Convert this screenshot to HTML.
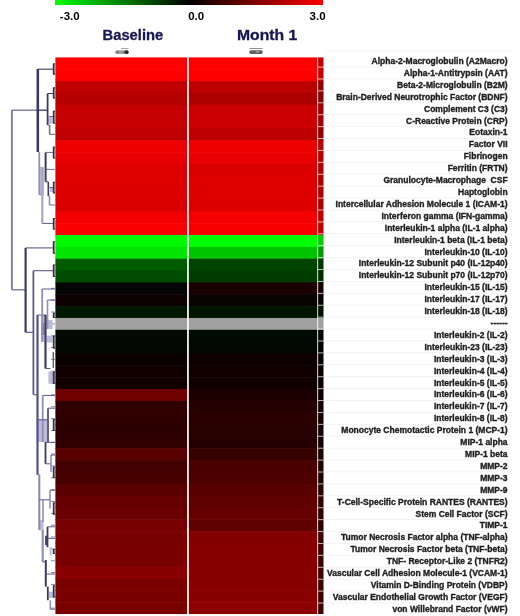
<!DOCTYPE html>
<html><head><meta charset="utf-8"><style>
html,body{margin:0;padding:0;background:#fff;width:520px;height:616px;overflow:hidden}
svg{display:block;will-change:transform;filter:blur(0.3px)}
.lb{font-family:"Liberation Sans",sans-serif;font-weight:bold;font-size:8.5px;fill:#1e1e1e;stroke:#1e1e1e;stroke-width:0.35px;text-anchor:end}
.sc{font-family:"Liberation Sans",sans-serif;font-weight:bold;font-size:11.5px;fill:#000}
.hd{font-family:"Liberation Sans",sans-serif;font-weight:bold;font-size:14.6px;fill:#171752;stroke:#171752;stroke-width:0.3px}
</style></head><body>
<svg width="520" height="616" viewBox="0 0 520 616">
<defs><linearGradient id="cb" x1="0" x2="1" y1="0" y2="0">
<stop offset="0" stop-color="#00ff00"/><stop offset="0.5" stop-color="#000000"/><stop offset="1" stop-color="#ff0000"/>
</linearGradient></defs>
<rect x="55" y="0" width="268" height="5" fill="url(#cb)"/>
<text x="59.8" y="19.8" class="sc">-3.0</text>
<text x="188.2" y="19.8" class="sc">0.0</text>
<text x="309.6" y="19.8" class="sc">3.0</text>
<text x="102.6" y="40" class="hd" textLength="60.6" lengthAdjust="spacingAndGlyphs">Baseline</text>
<text x="237" y="39.6" class="hd" textLength="60.2" lengthAdjust="spacingAndGlyphs">Month 1</text>
<rect x="121" y="48" width="7.5" height="0.9" fill="#a0a0a0"/>
<rect x="115.3" y="50.5" width="13.2" height="3.3" rx="1.6" fill="#7a807a"/>
<rect x="124.6" y="50.2" width="4" height="3.8" rx="1.6" fill="#2e2e2e"/>
<rect x="119" y="51.2" width="3" height="1.6" fill="#a8b0a8"/>
<rect x="249.5" y="48" width="13" height="1.0" fill="#8c8c9c"/>
<rect x="249.3" y="50.3" width="13.4" height="3.6" rx="1.6" fill="#5c625c"/>
<rect x="256" y="51" width="3" height="1.6" fill="#9aa09a"/>
<rect x="55.4" y="57.40" width="132.1" height="12.44" fill="#ff0000"/>
<rect x="188.5" y="57.40" width="129" height="12.44" fill="#ff0000"/>
<rect x="318" y="57.40" width="5.5" height="12.44" fill="#c60000"/>
<rect x="55.4" y="69.24" width="132.1" height="12.44" fill="#ff0000"/>
<rect x="188.5" y="69.24" width="129" height="12.44" fill="#ff0000"/>
<rect x="318" y="69.24" width="5.5" height="12.44" fill="#c60000"/>
<rect x="55.4" y="81.09" width="132.1" height="12.44" fill="#c00000"/>
<rect x="188.5" y="81.09" width="129" height="12.44" fill="#bc0000"/>
<rect x="318" y="81.09" width="5.5" height="12.44" fill="#920000"/>
<rect x="55.4" y="92.93" width="132.1" height="12.44" fill="#b60000"/>
<rect x="188.5" y="92.93" width="129" height="12.44" fill="#ac0000"/>
<rect x="318" y="92.93" width="5.5" height="12.44" fill="#860000"/>
<rect x="55.4" y="104.77" width="132.1" height="12.44" fill="#c40000"/>
<rect x="188.5" y="104.77" width="129" height="12.44" fill="#cc0000"/>
<rect x="318" y="104.77" width="5.5" height="12.44" fill="#9f0000"/>
<rect x="55.4" y="116.62" width="132.1" height="12.44" fill="#c60000"/>
<rect x="188.5" y="116.62" width="129" height="12.44" fill="#cc0000"/>
<rect x="318" y="116.62" width="5.5" height="12.44" fill="#9f0000"/>
<rect x="55.4" y="128.46" width="132.1" height="12.44" fill="#c00000"/>
<rect x="188.5" y="128.46" width="129" height="12.44" fill="#bc0000"/>
<rect x="318" y="128.46" width="5.5" height="12.44" fill="#920000"/>
<rect x="55.4" y="140.30" width="132.1" height="12.44" fill="#ee0000"/>
<rect x="188.5" y="140.30" width="129" height="12.44" fill="#ec0000"/>
<rect x="318" y="140.30" width="5.5" height="12.44" fill="#b80000"/>
<rect x="55.4" y="152.14" width="132.1" height="12.44" fill="#e80000"/>
<rect x="188.5" y="152.14" width="129" height="12.44" fill="#e80000"/>
<rect x="318" y="152.14" width="5.5" height="12.44" fill="#b40000"/>
<rect x="55.4" y="163.99" width="132.1" height="12.44" fill="#de0000"/>
<rect x="188.5" y="163.99" width="129" height="12.44" fill="#da0000"/>
<rect x="318" y="163.99" width="5.5" height="12.44" fill="#aa0000"/>
<rect x="55.4" y="175.83" width="132.1" height="12.44" fill="#de0000"/>
<rect x="188.5" y="175.83" width="129" height="12.44" fill="#de0000"/>
<rect x="318" y="175.83" width="5.5" height="12.44" fill="#ad0000"/>
<rect x="55.4" y="187.67" width="132.1" height="12.44" fill="#dc0000"/>
<rect x="188.5" y="187.67" width="129" height="12.44" fill="#de0000"/>
<rect x="318" y="187.67" width="5.5" height="12.44" fill="#ad0000"/>
<rect x="55.4" y="199.52" width="132.1" height="12.44" fill="#da0000"/>
<rect x="188.5" y="199.52" width="129" height="12.44" fill="#dc0000"/>
<rect x="318" y="199.52" width="5.5" height="12.44" fill="#ab0000"/>
<rect x="55.4" y="211.36" width="132.1" height="12.44" fill="#f40000"/>
<rect x="188.5" y="211.36" width="129" height="12.44" fill="#f40000"/>
<rect x="318" y="211.36" width="5.5" height="12.44" fill="#be0000"/>
<rect x="55.4" y="223.20" width="132.1" height="12.44" fill="#fa0000"/>
<rect x="188.5" y="223.20" width="129" height="12.44" fill="#f80000"/>
<rect x="318" y="223.20" width="5.5" height="12.44" fill="#c10000"/>
<rect x="55.4" y="235.05" width="132.1" height="12.44" fill="#00f800"/>
<rect x="188.5" y="235.05" width="129" height="12.44" fill="#00ff00"/>
<rect x="318" y="235.05" width="5.5" height="12.44" fill="#00cc00"/>
<rect x="55.4" y="246.89" width="132.1" height="12.44" fill="#00e400"/>
<rect x="188.5" y="246.89" width="129" height="12.44" fill="#00c400"/>
<rect x="318" y="246.89" width="5.5" height="12.44" fill="#009c00"/>
<rect x="55.4" y="258.73" width="132.1" height="12.44" fill="#005c00"/>
<rect x="188.5" y="258.73" width="129" height="12.44" fill="#004400"/>
<rect x="318" y="258.73" width="5.5" height="12.44" fill="#003600"/>
<rect x="55.4" y="270.57" width="132.1" height="12.44" fill="#004c00"/>
<rect x="188.5" y="270.57" width="129" height="12.44" fill="#003c00"/>
<rect x="318" y="270.57" width="5.5" height="12.44" fill="#003000"/>
<rect x="55.4" y="282.42" width="132.1" height="12.44" fill="#050505"/>
<rect x="188.5" y="282.42" width="129" height="12.44" fill="#1a0000"/>
<rect x="318" y="282.42" width="5.5" height="12.44" fill="#140000"/>
<rect x="55.4" y="294.26" width="132.1" height="12.44" fill="#0c0000"/>
<rect x="188.5" y="294.26" width="129" height="12.44" fill="#080404"/>
<rect x="318" y="294.26" width="5.5" height="12.44" fill="#060303"/>
<rect x="55.4" y="306.10" width="132.1" height="12.44" fill="#001800"/>
<rect x="188.5" y="306.10" width="129" height="12.44" fill="#001400"/>
<rect x="318" y="306.10" width="5.5" height="12.44" fill="#001000"/>
<rect x="55.4" y="317.95" width="132.1" height="12.44" fill="#a0a0a0"/>
<rect x="188.5" y="317.95" width="129" height="12.44" fill="#a0a0a0"/>
<rect x="318" y="317.95" width="5.5" height="12.44" fill="#a0a0a0"/>
<rect x="55.4" y="329.79" width="132.1" height="12.44" fill="#020a02"/>
<rect x="188.5" y="329.79" width="129" height="12.44" fill="#020b02"/>
<rect x="318" y="329.79" width="5.5" height="12.44" fill="#000400"/>
<rect x="55.4" y="341.63" width="132.1" height="12.44" fill="#030803"/>
<rect x="188.5" y="341.63" width="129" height="12.44" fill="#040804"/>
<rect x="318" y="341.63" width="5.5" height="12.44" fill="#010301"/>
<rect x="55.4" y="353.47" width="132.1" height="12.44" fill="#0a0000"/>
<rect x="188.5" y="353.47" width="129" height="12.44" fill="#0e0000"/>
<rect x="318" y="353.47" width="5.5" height="12.44" fill="#060000"/>
<rect x="55.4" y="365.32" width="132.1" height="12.44" fill="#100000"/>
<rect x="188.5" y="365.32" width="129" height="12.44" fill="#100000"/>
<rect x="318" y="365.32" width="5.5" height="12.44" fill="#070000"/>
<rect x="55.4" y="377.16" width="132.1" height="12.44" fill="#120000"/>
<rect x="188.5" y="377.16" width="129" height="12.44" fill="#120000"/>
<rect x="318" y="377.16" width="5.5" height="12.44" fill="#080000"/>
<rect x="55.4" y="389.00" width="132.1" height="12.44" fill="#700000"/>
<rect x="188.5" y="389.00" width="129" height="12.44" fill="#1c0000"/>
<rect x="318" y="389.00" width="5.5" height="12.44" fill="#0c0000"/>
<rect x="55.4" y="400.85" width="132.1" height="12.44" fill="#300000"/>
<rect x="188.5" y="400.85" width="129" height="12.44" fill="#240000"/>
<rect x="318" y="400.85" width="5.5" height="12.44" fill="#100000"/>
<rect x="55.4" y="412.69" width="132.1" height="12.44" fill="#2e0000"/>
<rect x="188.5" y="412.69" width="129" height="12.44" fill="#2a0000"/>
<rect x="318" y="412.69" width="5.5" height="12.44" fill="#120000"/>
<rect x="55.4" y="424.53" width="132.1" height="12.44" fill="#2a0000"/>
<rect x="188.5" y="424.53" width="129" height="12.44" fill="#280000"/>
<rect x="318" y="424.53" width="5.5" height="12.44" fill="#120000"/>
<rect x="55.4" y="436.38" width="132.1" height="12.44" fill="#300000"/>
<rect x="188.5" y="436.38" width="129" height="12.44" fill="#240000"/>
<rect x="318" y="436.38" width="5.5" height="12.44" fill="#100000"/>
<rect x="55.4" y="448.22" width="132.1" height="12.44" fill="#5a0000"/>
<rect x="188.5" y="448.22" width="129" height="12.44" fill="#360000"/>
<rect x="318" y="448.22" width="5.5" height="12.44" fill="#180000"/>
<rect x="55.4" y="460.06" width="132.1" height="12.44" fill="#440000"/>
<rect x="188.5" y="460.06" width="129" height="12.44" fill="#4a0000"/>
<rect x="318" y="460.06" width="5.5" height="12.44" fill="#210000"/>
<rect x="55.4" y="471.90" width="132.1" height="12.44" fill="#460000"/>
<rect x="188.5" y="471.90" width="129" height="12.44" fill="#4c0000"/>
<rect x="318" y="471.90" width="5.5" height="12.44" fill="#220000"/>
<rect x="55.4" y="483.75" width="132.1" height="12.44" fill="#5a0000"/>
<rect x="188.5" y="483.75" width="129" height="12.44" fill="#580000"/>
<rect x="318" y="483.75" width="5.5" height="12.44" fill="#270000"/>
<rect x="55.4" y="495.59" width="132.1" height="12.44" fill="#640000"/>
<rect x="188.5" y="495.59" width="129" height="12.44" fill="#600000"/>
<rect x="318" y="495.59" width="5.5" height="12.44" fill="#2b0000"/>
<rect x="55.4" y="507.43" width="132.1" height="12.44" fill="#6a0000"/>
<rect x="188.5" y="507.43" width="129" height="12.44" fill="#660000"/>
<rect x="318" y="507.43" width="5.5" height="12.44" fill="#2d0000"/>
<rect x="55.4" y="519.28" width="132.1" height="12.44" fill="#780000"/>
<rect x="188.5" y="519.28" width="129" height="12.44" fill="#600000"/>
<rect x="318" y="519.28" width="5.5" height="12.44" fill="#2b0000"/>
<rect x="55.4" y="531.12" width="132.1" height="12.44" fill="#780000"/>
<rect x="188.5" y="531.12" width="129" height="12.44" fill="#820000"/>
<rect x="318" y="531.12" width="5.5" height="12.44" fill="#3a0000"/>
<rect x="55.4" y="542.96" width="132.1" height="12.44" fill="#7a0000"/>
<rect x="188.5" y="542.96" width="129" height="12.44" fill="#860000"/>
<rect x="318" y="542.96" width="5.5" height="12.44" fill="#3c0000"/>
<rect x="55.4" y="554.81" width="132.1" height="12.44" fill="#7a0000"/>
<rect x="188.5" y="554.81" width="129" height="12.44" fill="#860000"/>
<rect x="318" y="554.81" width="5.5" height="12.44" fill="#3c0000"/>
<rect x="55.4" y="566.65" width="132.1" height="12.44" fill="#8a0000"/>
<rect x="188.5" y="566.65" width="129" height="12.44" fill="#880000"/>
<rect x="318" y="566.65" width="5.5" height="12.44" fill="#3d0000"/>
<rect x="55.4" y="578.49" width="132.1" height="12.44" fill="#7a0000"/>
<rect x="188.5" y="578.49" width="129" height="12.44" fill="#880000"/>
<rect x="318" y="578.49" width="5.5" height="12.44" fill="#3d0000"/>
<rect x="55.4" y="590.33" width="132.1" height="12.44" fill="#7a0000"/>
<rect x="188.5" y="590.33" width="129" height="12.44" fill="#8a0000"/>
<rect x="318" y="590.33" width="5.5" height="12.44" fill="#3e0000"/>
<rect x="55.4" y="602.18" width="132.1" height="11.84" fill="#7a0000"/>
<rect x="188.5" y="602.18" width="129" height="11.84" fill="#8c0000"/>
<rect x="318" y="602.18" width="5.5" height="11.84" fill="#3f0000"/>
<rect x="187" y="57.4" width="1.8" height="556.62" fill="#ffffff" opacity="0.8"/>
<rect x="317.2" y="57.4" width="1.0" height="556.62" fill="#ffffff" opacity="0.6"/>
<rect x="318" y="66.57" width="5.5" height="1.0" fill="#ffffff" opacity="0.7"/>
<rect x="325" y="66.57" width="187" height="0.8" fill="#f0f0f0"/>
<rect x="318" y="78.48" width="5.5" height="1.0" fill="#ffffff" opacity="0.7"/>
<rect x="325" y="78.48" width="187" height="0.8" fill="#f0f0f0"/>
<rect x="318" y="90.39" width="5.5" height="1.0" fill="#ffffff" opacity="0.7"/>
<rect x="325" y="90.39" width="187" height="0.8" fill="#f0f0f0"/>
<rect x="318" y="102.30" width="5.5" height="1.0" fill="#ffffff" opacity="0.7"/>
<rect x="325" y="102.30" width="187" height="0.8" fill="#f0f0f0"/>
<rect x="318" y="114.21" width="5.5" height="1.0" fill="#ffffff" opacity="0.7"/>
<rect x="325" y="114.21" width="187" height="0.8" fill="#f0f0f0"/>
<rect x="318" y="126.12" width="5.5" height="1.0" fill="#ffffff" opacity="0.7"/>
<rect x="325" y="126.12" width="187" height="0.8" fill="#f0f0f0"/>
<rect x="318" y="138.03" width="5.5" height="1.0" fill="#ffffff" opacity="0.7"/>
<rect x="325" y="138.03" width="187" height="0.8" fill="#f0f0f0"/>
<rect x="318" y="149.94" width="5.5" height="1.0" fill="#ffffff" opacity="0.7"/>
<rect x="325" y="149.94" width="187" height="0.8" fill="#f0f0f0"/>
<rect x="318" y="161.85" width="5.5" height="1.0" fill="#ffffff" opacity="0.7"/>
<rect x="325" y="161.85" width="187" height="0.8" fill="#f0f0f0"/>
<rect x="318" y="173.76" width="5.5" height="1.0" fill="#ffffff" opacity="0.7"/>
<rect x="325" y="173.76" width="187" height="0.8" fill="#f0f0f0"/>
<rect x="318" y="185.67" width="5.5" height="1.0" fill="#ffffff" opacity="0.7"/>
<rect x="325" y="185.67" width="187" height="0.8" fill="#f0f0f0"/>
<rect x="318" y="197.58" width="5.5" height="1.0" fill="#ffffff" opacity="0.7"/>
<rect x="325" y="197.58" width="187" height="0.8" fill="#f0f0f0"/>
<rect x="318" y="209.49" width="5.5" height="1.0" fill="#ffffff" opacity="0.7"/>
<rect x="325" y="209.49" width="187" height="0.8" fill="#f0f0f0"/>
<rect x="318" y="221.40" width="5.5" height="1.0" fill="#ffffff" opacity="0.7"/>
<rect x="325" y="221.40" width="187" height="0.8" fill="#f0f0f0"/>
<rect x="318" y="233.31" width="5.5" height="1.0" fill="#ffffff" opacity="0.7"/>
<rect x="325" y="233.31" width="187" height="0.8" fill="#f0f0f0"/>
<rect x="318" y="245.22" width="5.5" height="1.0" fill="#ffffff" opacity="0.7"/>
<rect x="325" y="245.22" width="187" height="0.8" fill="#f0f0f0"/>
<rect x="318" y="257.13" width="5.5" height="1.0" fill="#ffffff" opacity="0.7"/>
<rect x="325" y="257.13" width="187" height="0.8" fill="#f0f0f0"/>
<rect x="318" y="269.04" width="5.5" height="1.0" fill="#ffffff" opacity="0.7"/>
<rect x="325" y="269.04" width="187" height="0.8" fill="#f0f0f0"/>
<rect x="318" y="280.95" width="5.5" height="1.0" fill="#ffffff" opacity="0.7"/>
<rect x="325" y="280.95" width="187" height="0.8" fill="#f0f0f0"/>
<rect x="318" y="292.86" width="5.5" height="1.0" fill="#ffffff" opacity="0.7"/>
<rect x="325" y="292.86" width="187" height="0.8" fill="#f0f0f0"/>
<rect x="318" y="304.77" width="5.5" height="1.0" fill="#ffffff" opacity="0.7"/>
<rect x="325" y="304.77" width="187" height="0.8" fill="#f0f0f0"/>
<rect x="318" y="316.68" width="5.5" height="1.0" fill="#ffffff" opacity="0.7"/>
<rect x="325" y="316.68" width="187" height="0.8" fill="#f0f0f0"/>
<rect x="318" y="328.59" width="5.5" height="1.0" fill="#ffffff" opacity="0.7"/>
<rect x="325" y="328.59" width="187" height="0.8" fill="#f0f0f0"/>
<rect x="318" y="340.50" width="5.5" height="1.0" fill="#ffffff" opacity="0.7"/>
<rect x="325" y="340.50" width="187" height="0.8" fill="#f0f0f0"/>
<rect x="318" y="352.41" width="5.5" height="1.0" fill="#ffffff" opacity="0.7"/>
<rect x="325" y="352.41" width="187" height="0.8" fill="#f0f0f0"/>
<rect x="318" y="364.32" width="5.5" height="1.0" fill="#ffffff" opacity="0.7"/>
<rect x="325" y="364.32" width="187" height="0.8" fill="#f0f0f0"/>
<rect x="318" y="376.23" width="5.5" height="1.0" fill="#ffffff" opacity="0.7"/>
<rect x="325" y="376.23" width="187" height="0.8" fill="#f0f0f0"/>
<rect x="318" y="388.14" width="5.5" height="1.0" fill="#ffffff" opacity="0.7"/>
<rect x="325" y="388.14" width="187" height="0.8" fill="#f0f0f0"/>
<rect x="318" y="400.05" width="5.5" height="1.0" fill="#ffffff" opacity="0.7"/>
<rect x="325" y="400.05" width="187" height="0.8" fill="#f0f0f0"/>
<rect x="318" y="411.96" width="5.5" height="1.0" fill="#ffffff" opacity="0.7"/>
<rect x="325" y="411.96" width="187" height="0.8" fill="#f0f0f0"/>
<rect x="318" y="423.87" width="5.5" height="1.0" fill="#ffffff" opacity="0.7"/>
<rect x="325" y="423.87" width="187" height="0.8" fill="#f0f0f0"/>
<rect x="318" y="435.78" width="5.5" height="1.0" fill="#ffffff" opacity="0.7"/>
<rect x="325" y="435.78" width="187" height="0.8" fill="#f0f0f0"/>
<rect x="318" y="447.69" width="5.5" height="1.0" fill="#ffffff" opacity="0.7"/>
<rect x="325" y="447.69" width="187" height="0.8" fill="#f0f0f0"/>
<rect x="318" y="459.60" width="5.5" height="1.0" fill="#ffffff" opacity="0.7"/>
<rect x="325" y="459.60" width="187" height="0.8" fill="#f0f0f0"/>
<rect x="318" y="471.51" width="5.5" height="1.0" fill="#ffffff" opacity="0.7"/>
<rect x="325" y="471.51" width="187" height="0.8" fill="#f0f0f0"/>
<rect x="318" y="483.42" width="5.5" height="1.0" fill="#ffffff" opacity="0.7"/>
<rect x="325" y="483.42" width="187" height="0.8" fill="#f0f0f0"/>
<rect x="318" y="495.33" width="5.5" height="1.0" fill="#ffffff" opacity="0.7"/>
<rect x="325" y="495.33" width="187" height="0.8" fill="#f0f0f0"/>
<rect x="318" y="507.24" width="5.5" height="1.0" fill="#ffffff" opacity="0.7"/>
<rect x="325" y="507.24" width="187" height="0.8" fill="#f0f0f0"/>
<rect x="318" y="519.15" width="5.5" height="1.0" fill="#ffffff" opacity="0.7"/>
<rect x="325" y="519.15" width="187" height="0.8" fill="#f0f0f0"/>
<rect x="318" y="531.06" width="5.5" height="1.0" fill="#ffffff" opacity="0.7"/>
<rect x="325" y="531.06" width="187" height="0.8" fill="#f0f0f0"/>
<rect x="318" y="542.97" width="5.5" height="1.0" fill="#ffffff" opacity="0.7"/>
<rect x="325" y="542.97" width="187" height="0.8" fill="#f0f0f0"/>
<rect x="318" y="554.88" width="5.5" height="1.0" fill="#ffffff" opacity="0.7"/>
<rect x="325" y="554.88" width="187" height="0.8" fill="#f0f0f0"/>
<rect x="318" y="566.79" width="5.5" height="1.0" fill="#ffffff" opacity="0.7"/>
<rect x="325" y="566.79" width="187" height="0.8" fill="#f0f0f0"/>
<rect x="318" y="578.70" width="5.5" height="1.0" fill="#ffffff" opacity="0.7"/>
<rect x="325" y="578.70" width="187" height="0.8" fill="#f0f0f0"/>
<rect x="318" y="590.61" width="5.5" height="1.0" fill="#ffffff" opacity="0.7"/>
<rect x="325" y="590.61" width="187" height="0.8" fill="#f0f0f0"/>
<rect x="318" y="602.52" width="5.5" height="1.0" fill="#ffffff" opacity="0.7"/>
<rect x="325" y="602.52" width="187" height="0.8" fill="#f0f0f0"/>
<rect x="325" y="50.5" width="187" height="0.8" fill="#efefef"/>
<text x="507.6" y="63.97" class="lb">Alpha-2-Macroglobulin (A2Macro)</text>
<text x="507.6" y="75.88" class="lb">Alpha-1-Antitrypsin (AAT)</text>
<text x="507.6" y="87.79" class="lb">Beta-2-Microglobulin (B2M)</text>
<text x="507.6" y="99.70" class="lb">Brain-Derived Neurotrophic Factor (BDNF)</text>
<text x="507.6" y="111.61" class="lb">Complement C3 (C3)</text>
<text x="507.6" y="123.52" class="lb">C-Reactive Protein (CRP)</text>
<text x="507.6" y="135.43" class="lb">Eotaxin-1</text>
<text x="507.6" y="147.34" class="lb">Factor VII</text>
<text x="507.6" y="159.25" class="lb">Fibrinogen</text>
<text x="507.6" y="171.16" class="lb">Ferritin (FRTN)</text>
<text x="507.6" y="183.07" class="lb">Granulocyte-Macrophage &#160;CSF</text>
<text x="507.6" y="194.98" class="lb">Haptoglobin</text>
<text x="507.6" y="206.89" class="lb">Intercellular Adhesion Molecule 1 (ICAM-1)</text>
<text x="507.6" y="218.80" class="lb">Interferon gamma (IFN-gamma)</text>
<text x="507.6" y="230.71" class="lb">Interleukin-1 alpha (IL-1 alpha)</text>
<text x="507.6" y="242.62" class="lb">Interleukin-1 beta (IL-1 beta)</text>
<text x="507.6" y="254.53" class="lb">Interleukin-10 (IL-10)</text>
<text x="507.6" y="266.44" class="lb">Interleukin-12 Subunit p40 (IL-12p40)</text>
<text x="507.6" y="278.35" class="lb">Interleukin-12 Subunit p70 (IL-12p70)</text>
<text x="507.6" y="290.26" class="lb">Interleukin-15 (IL-15)</text>
<text x="507.6" y="302.17" class="lb">Interleukin-17 (IL-17)</text>
<text x="507.6" y="314.08" class="lb">Interleukin-18 (IL-18)</text>
<text x="507.6" y="325.99" class="lb">------</text>
<text x="507.6" y="337.90" class="lb">Interleukin-2 (IL-2)</text>
<text x="507.6" y="349.81" class="lb">Interleukin-23 (IL-23)</text>
<text x="507.6" y="361.72" class="lb">Interleukin-3 (IL-3)</text>
<text x="507.6" y="373.63" class="lb">Interleukin-4 (IL-4)</text>
<text x="507.6" y="385.54" class="lb">Interleukin-5 (IL-5)</text>
<text x="507.6" y="397.45" class="lb">Interleukin-6 (IL-6)</text>
<text x="507.6" y="409.36" class="lb">Interleukin-7 (IL-7)</text>
<text x="507.6" y="421.27" class="lb">Interleukin-8 (IL-8)</text>
<text x="507.6" y="433.18" class="lb">Monocyte Chemotactic Protein 1 (MCP-1)</text>
<text x="507.6" y="445.09" class="lb">MIP-1 alpha</text>
<text x="507.6" y="457.00" class="lb">MIP-1 beta</text>
<text x="507.6" y="468.91" class="lb">MMP-2</text>
<text x="507.6" y="480.82" class="lb">MMP-3</text>
<text x="507.6" y="492.73" class="lb">MMP-9</text>
<text x="507.6" y="504.64" class="lb">T-Cell-Specific Protein RANTES (RANTES)</text>
<text x="507.6" y="516.55" class="lb">Stem Cell Factor (SCF)</text>
<text x="507.6" y="528.46" class="lb">TIMP-1</text>
<text x="507.6" y="540.37" class="lb">Tumor Necrosis Factor alpha (TNF-alpha)</text>
<text x="507.6" y="552.28" class="lb">Tumor Necrosis Factor beta (TNF-beta)</text>
<text x="507.6" y="564.19" class="lb">TNF- Receptor-Like 2 (TNFR2)</text>
<text x="507.6" y="576.10" class="lb">Vascular Cell Adhesion Molecule-1 (VCAM-1)</text>
<text x="507.6" y="588.01" class="lb">Vitamin D-Binding Protein (VDBP)</text>
<text x="507.6" y="599.92" class="lb">Vascular Endothelial Growth Factor (VEGF)</text>
<text x="507.6" y="611.83" class="lb">von Willebrand Factor (vWF)</text>
<line x1="51" y1="288.34" x2="55" y2="288.34" stroke="#7878a0" stroke-width="0.9"/>
<line x1="51" y1="300.18" x2="55" y2="300.18" stroke="#7878a0" stroke-width="0.9"/>
<line x1="51" y1="312.02" x2="55" y2="312.02" stroke="#7878a0" stroke-width="0.9"/>
<line x1="51" y1="323.87" x2="55" y2="323.87" stroke="#7878a0" stroke-width="0.9"/>
<line x1="51" y1="335.71" x2="55" y2="335.71" stroke="#7878a0" stroke-width="0.9"/>
<line x1="51" y1="347.55" x2="55" y2="347.55" stroke="#7878a0" stroke-width="0.9"/>
<line x1="51" y1="359.40" x2="55" y2="359.40" stroke="#7878a0" stroke-width="0.9"/>
<line x1="51" y1="371.24" x2="55" y2="371.24" stroke="#7878a0" stroke-width="0.9"/>
<line x1="51" y1="383.08" x2="55" y2="383.08" stroke="#7878a0" stroke-width="0.9"/>
<line x1="51" y1="394.93" x2="55" y2="394.93" stroke="#7878a0" stroke-width="0.9"/>
<line x1="51" y1="406.77" x2="55" y2="406.77" stroke="#7878a0" stroke-width="0.9"/>
<line x1="51" y1="418.61" x2="55" y2="418.61" stroke="#7878a0" stroke-width="0.9"/>
<line x1="51" y1="430.45" x2="55" y2="430.45" stroke="#7878a0" stroke-width="0.9"/>
<line x1="51" y1="442.30" x2="55" y2="442.30" stroke="#7878a0" stroke-width="0.9"/>
<line x1="51" y1="454.14" x2="55" y2="454.14" stroke="#7878a0" stroke-width="0.9"/>
<line x1="51" y1="465.98" x2="55" y2="465.98" stroke="#7878a0" stroke-width="0.9"/>
<line x1="51" y1="477.83" x2="55" y2="477.83" stroke="#7878a0" stroke-width="0.9"/>
<line x1="51" y1="489.67" x2="55" y2="489.67" stroke="#7878a0" stroke-width="0.9"/>
<line x1="51" y1="501.51" x2="55" y2="501.51" stroke="#7878a0" stroke-width="0.9"/>
<line x1="51" y1="513.36" x2="55" y2="513.36" stroke="#7878a0" stroke-width="0.9"/>
<line x1="51" y1="525.20" x2="55" y2="525.20" stroke="#7878a0" stroke-width="0.9"/>
<line x1="51" y1="537.04" x2="55" y2="537.04" stroke="#7878a0" stroke-width="0.9"/>
<line x1="51" y1="548.88" x2="55" y2="548.88" stroke="#7878a0" stroke-width="0.9"/>
<line x1="51" y1="560.73" x2="55" y2="560.73" stroke="#7878a0" stroke-width="0.9"/>
<line x1="51" y1="572.57" x2="55" y2="572.57" stroke="#7878a0" stroke-width="0.9"/>
<line x1="51" y1="584.41" x2="55" y2="584.41" stroke="#7878a0" stroke-width="0.9"/>
<line x1="51" y1="596.26" x2="55" y2="596.26" stroke="#7878a0" stroke-width="0.9"/>
<line x1="51" y1="608.10" x2="55" y2="608.10" stroke="#7878a0" stroke-width="0.9"/>
<rect x="48.4" y="116" width="4.1" height="7.6" fill="#bcbcda"/>
<rect x="39.5" y="167" width="4.5" height="28" fill="#bcbcda"/>
<rect x="50" y="187" width="3" height="5" fill="#bcbcda"/>
<rect x="41.2" y="315" width="3.4" height="26.8" fill="#bcbcda"/>
<rect x="47" y="320" width="5.5" height="9" fill="#bcbcda"/>
<rect x="47" y="335.7" width="5.5" height="6.8" fill="#bcbcda"/>
<rect x="48.4" y="371.6" width="6.1" height="12.2" fill="#bcbcda"/>
<rect x="36.8" y="419" width="10.2" height="23" fill="#bcbcda"/>
<rect x="38.9" y="520" width="4.7" height="10.2" fill="#bcbcda"/>
<rect x="45" y="535.7" width="3" height="9.5" fill="#4a4a90"/>
<rect x="48.7" y="591.7" width="4.7" height="6.3" fill="#bcbcda"/>
<rect x="41.5" y="323" width="3" height="12" fill="#7a7ab8"/>
<line x1="11.9" y1="110" x2="11.9" y2="289.8" stroke="#8484a8" stroke-width="2.0"/>
<line x1="11.9" y1="110.2" x2="37.8" y2="110.2" stroke="#70709a" stroke-width="1.3"/>
<line x1="11.9" y1="289.8" x2="25.6" y2="289.8" stroke="#70709a" stroke-width="1.3"/>
<line x1="37.8" y1="69" x2="37.8" y2="152" stroke="#3a3a66" stroke-width="2.6"/>
<line x1="37.8" y1="69.2" x2="53.5" y2="69.2" stroke="#3a3a66" stroke-width="1.1"/>
<line x1="37.8" y1="110.2" x2="47.6" y2="110.2" stroke="#3a3a66" stroke-width="1.3"/>
<line x1="47.6" y1="93.5" x2="47.6" y2="125" stroke="#3a3a66" stroke-width="1.8"/>
<line x1="47.6" y1="93.5" x2="53.5" y2="93.5" stroke="#3a3a66" stroke-width="1.0"/>
<line x1="47.6" y1="125" x2="49.6" y2="125" stroke="#5a5a88" stroke-width="1.0"/>
<line x1="49.6" y1="125" x2="49.6" y2="134.3" stroke="#6a7a7a" stroke-width="1.6"/>
<line x1="49.6" y1="134.3" x2="55" y2="134.3" stroke="#5a5a88" stroke-width="1.0"/>
<line x1="49.6" y1="116.5" x2="53.5" y2="116.5" stroke="#5a5a88" stroke-width="1"/>
<line x1="39.3" y1="152" x2="39.3" y2="194.8" stroke="#9090b4" stroke-width="1.8"/>
<line x1="45.6" y1="152.4" x2="45.6" y2="181.8" stroke="#3a3a66" stroke-width="2.0"/>
<line x1="45.6" y1="152.4" x2="53.5" y2="152.4" stroke="#5a5a88" stroke-width="0.9"/>
<line x1="45.6" y1="169.4" x2="55" y2="169.4" stroke="#5a5a88" stroke-width="0.9"/>
<line x1="45.6" y1="181.8" x2="48.3" y2="181.8" stroke="#3a3a66" stroke-width="1"/>
<line x1="48.3" y1="181.8" x2="48.3" y2="196" stroke="#3a3a66" stroke-width="1.6"/>
<line x1="48.3" y1="196" x2="49.5" y2="196" stroke="#5a5a88" stroke-width="1"/>
<line x1="49.5" y1="196" x2="49.5" y2="205" stroke="#9090b4" stroke-width="1.6"/>
<line x1="49.5" y1="205" x2="55" y2="205" stroke="#5a5a88" stroke-width="0.9"/>
<line x1="48.3" y1="187.6" x2="53.5" y2="187.6" stroke="#5a5a88" stroke-width="0.9"/>
<line x1="39.3" y1="194.8" x2="42.3" y2="194.8" stroke="#9090b4" stroke-width="1"/>
<line x1="42.3" y1="167" x2="42.3" y2="223.4" stroke="#a8a8c4" stroke-width="2.2"/>
<line x1="42.3" y1="223.4" x2="53.5" y2="223.4" stroke="#5a5a88" stroke-width="1"/>
<line x1="25.6" y1="247.9" x2="25.6" y2="332.3" stroke="#3a3a66" stroke-width="2.2"/>
<line x1="25.6" y1="247.9" x2="53.5" y2="247.9" stroke="#5a5a88" stroke-width="1.1"/>
<line x1="25.6" y1="332.3" x2="33.4" y2="332.3" stroke="#5a5a88" stroke-width="1.2"/>
<line x1="33.4" y1="270.7" x2="33.4" y2="394.7" stroke="#5a5a8a" stroke-width="1.8"/>
<line x1="33.4" y1="270.7" x2="53.5" y2="270.7" stroke="#5a5a88" stroke-width="1.1"/>
<line x1="33.4" y1="394.7" x2="37.5" y2="394.7" stroke="#5a5a88" stroke-width="1.1"/>
<line x1="37.5" y1="315" x2="37.5" y2="474.7" stroke="#50508a" stroke-width="2.2"/>
<line x1="37.5" y1="315" x2="46" y2="315" stroke="#5a5a88" stroke-width="1"/>
<line x1="42.2" y1="289" x2="42.2" y2="341.8" stroke="#9090b4" stroke-width="1.8"/>
<line x1="42.2" y1="289" x2="55" y2="289" stroke="#5a5a88" stroke-width="1.0"/>
<line x1="47.5" y1="300" x2="47.5" y2="329" stroke="#9090b4" stroke-width="1.6"/>
<line x1="47.5" y1="300" x2="55" y2="300" stroke="#5a5a88" stroke-width="1"/>
<line x1="45.5" y1="315" x2="45.5" y2="368.5" stroke="#3a3a66" stroke-width="2.2"/>
<line x1="45.5" y1="368.5" x2="50.4" y2="368.5" stroke="#5a5a88" stroke-width="1"/>
<line x1="53.3" y1="352" x2="53.3" y2="368" stroke="#5a5a88" stroke-width="1.4"/>
<line x1="42.7" y1="395.4" x2="55" y2="395.4" stroke="#5a5a88" stroke-width="1"/>
<line x1="42.7" y1="395.4" x2="42.7" y2="442" stroke="#9090b4" stroke-width="1.8"/>
<line x1="48" y1="408.2" x2="48" y2="442" stroke="#3a3a66" stroke-width="1.6"/>
<line x1="48" y1="408.2" x2="55" y2="408.2" stroke="#5a5a88" stroke-width="1"/>
<line x1="37.5" y1="419.8" x2="47" y2="419.8" stroke="#5a5a88" stroke-width="1"/>
<line x1="45.5" y1="442" x2="45.5" y2="463.8" stroke="#3a3a66" stroke-width="1.8"/>
<line x1="45.5" y1="442.4" x2="55" y2="442.4" stroke="#5a5a88" stroke-width="1"/>
<line x1="45.5" y1="463.8" x2="50.4" y2="463.8" stroke="#5a5a88" stroke-width="1"/>
<line x1="51" y1="455" x2="51" y2="472" stroke="#9090b4" stroke-width="1.6"/>
<line x1="51" y1="455" x2="55" y2="455" stroke="#5a5a88" stroke-width="1"/>
<line x1="37.5" y1="474.7" x2="39.3" y2="474.7" stroke="#5a5a88" stroke-width="1"/>
<line x1="39.3" y1="474.7" x2="39.3" y2="530" stroke="#8888aa" stroke-width="2.0"/>
<line x1="39.3" y1="499.8" x2="50.4" y2="499.8" stroke="#5a5a88" stroke-width="1"/>
<line x1="50" y1="490.2" x2="50" y2="508.6" stroke="#9090b4" stroke-width="1.6"/>
<line x1="50" y1="490.2" x2="55" y2="490.2" stroke="#5a5a88" stroke-width="1"/>
<line x1="43" y1="499.8" x2="43" y2="522" stroke="#9090b4" stroke-width="1.6"/>
<line x1="42.7" y1="530" x2="42.7" y2="562" stroke="#9090b4" stroke-width="2.2"/>
<line x1="47.5" y1="526.8" x2="47.5" y2="547.2" stroke="#3a3a66" stroke-width="1.8"/>
<line x1="47.5" y1="526.8" x2="55" y2="526.8" stroke="#5a5a88" stroke-width="1"/>
<line x1="47.5" y1="538.4" x2="55" y2="538.4" stroke="#5a5a88" stroke-width="1"/>
<line x1="50.6" y1="547" x2="50.6" y2="555.4" stroke="#bcbcda" stroke-width="2"/>
<line x1="45.8" y1="560" x2="45.8" y2="586.6" stroke="#3a3a66" stroke-width="2.0"/>
<line x1="45.8" y1="574" x2="55" y2="574" stroke="#5a5a88" stroke-width="1"/>
<line x1="47.8" y1="586.6" x2="47.8" y2="600.2" stroke="#3a3a66" stroke-width="1.8"/>
<line x1="50.3" y1="600.2" x2="50.3" y2="609.2" stroke="#9090b4" stroke-width="1.6"/>
<line x1="50.3" y1="609.2" x2="55" y2="609.2" stroke="#5a5a88" stroke-width="1"/>
<line x1="42.7" y1="562" x2="45.8" y2="562" stroke="#5a5a88" stroke-width="1"/>
<line x1="53.7" y1="63.4" x2="53.7" y2="74.7" stroke="#3a3040" stroke-width="1.8"/>
<line x1="53.7" y1="63.9" x2="55.2" y2="63.9" stroke="#3a3040" stroke-width="1"/>
<line x1="53.7" y1="74.2" x2="55.2" y2="74.2" stroke="#3a3040" stroke-width="1"/>
<line x1="53.7" y1="87.3" x2="53.7" y2="98.5" stroke="#3a3040" stroke-width="1.8"/>
<line x1="53.7" y1="87.8" x2="55.2" y2="87.8" stroke="#3a3040" stroke-width="1"/>
<line x1="53.7" y1="98.0" x2="55.2" y2="98.0" stroke="#3a3040" stroke-width="1"/>
<line x1="53.7" y1="110.7" x2="53.7" y2="123.6" stroke="#3a3040" stroke-width="1.8"/>
<line x1="53.7" y1="111.2" x2="55.2" y2="111.2" stroke="#3a3040" stroke-width="1"/>
<line x1="53.7" y1="123.1" x2="55.2" y2="123.1" stroke="#3a3040" stroke-width="1"/>
<line x1="53.7" y1="146.6" x2="53.7" y2="158.5" stroke="#3a3040" stroke-width="1.8"/>
<line x1="53.7" y1="147.1" x2="55.2" y2="147.1" stroke="#3a3040" stroke-width="1"/>
<line x1="53.7" y1="158.0" x2="55.2" y2="158.0" stroke="#3a3040" stroke-width="1"/>
<line x1="53.7" y1="181.8" x2="53.7" y2="193.4" stroke="#3a3040" stroke-width="1.8"/>
<line x1="53.7" y1="182.3" x2="55.2" y2="182.3" stroke="#3a3040" stroke-width="1"/>
<line x1="53.7" y1="192.9" x2="55.2" y2="192.9" stroke="#3a3040" stroke-width="1"/>
<line x1="53.7" y1="218" x2="53.7" y2="229.6" stroke="#3a3040" stroke-width="1.8"/>
<line x1="53.7" y1="218.5" x2="55.2" y2="218.5" stroke="#3a3040" stroke-width="1"/>
<line x1="53.7" y1="229.1" x2="55.2" y2="229.1" stroke="#3a3040" stroke-width="1"/>
<line x1="53.7" y1="241.3" x2="53.7" y2="253.7" stroke="#3a3040" stroke-width="1.8"/>
<line x1="53.7" y1="241.8" x2="55.2" y2="241.8" stroke="#3a3040" stroke-width="1"/>
<line x1="53.7" y1="253.2" x2="55.2" y2="253.2" stroke="#3a3040" stroke-width="1"/>
<line x1="53.7" y1="264.5" x2="53.7" y2="277" stroke="#3a3040" stroke-width="1.8"/>
<line x1="53.7" y1="265.0" x2="55.2" y2="265.0" stroke="#3a3040" stroke-width="1"/>
<line x1="53.7" y1="276.5" x2="55.2" y2="276.5" stroke="#3a3040" stroke-width="1"/>
<line x1="53.7" y1="312.7" x2="53.7" y2="318" stroke="#3a3040" stroke-width="1.8"/>
<line x1="53.7" y1="313.2" x2="55.2" y2="313.2" stroke="#3a3040" stroke-width="1"/>
<line x1="53.7" y1="317.5" x2="55.2" y2="317.5" stroke="#3a3040" stroke-width="1"/>
<line x1="53.7" y1="335.7" x2="53.7" y2="348.6" stroke="#3a3040" stroke-width="1.8"/>
<line x1="53.7" y1="336.2" x2="55.2" y2="336.2" stroke="#3a3040" stroke-width="1"/>
<line x1="53.7" y1="348.1" x2="55.2" y2="348.1" stroke="#3a3040" stroke-width="1"/>
<line x1="53.7" y1="371.6" x2="53.7" y2="383.8" stroke="#3a3040" stroke-width="1.8"/>
<line x1="53.7" y1="372.1" x2="55.2" y2="372.1" stroke="#3a3040" stroke-width="1"/>
<line x1="53.7" y1="383.3" x2="55.2" y2="383.3" stroke="#3a3040" stroke-width="1"/>
<line x1="53.7" y1="419" x2="53.7" y2="431" stroke="#3a3040" stroke-width="1.8"/>
<line x1="53.7" y1="419.5" x2="55.2" y2="419.5" stroke="#3a3040" stroke-width="1"/>
<line x1="53.7" y1="430.5" x2="55.2" y2="430.5" stroke="#3a3040" stroke-width="1"/>
<line x1="53.7" y1="466.6" x2="53.7" y2="478" stroke="#3a3040" stroke-width="1.8"/>
<line x1="53.7" y1="467.1" x2="55.2" y2="467.1" stroke="#3a3040" stroke-width="1"/>
<line x1="53.7" y1="477.5" x2="55.2" y2="477.5" stroke="#3a3040" stroke-width="1"/>
<line x1="53.7" y1="502.5" x2="53.7" y2="514.7" stroke="#3a3040" stroke-width="1.8"/>
<line x1="53.7" y1="503.0" x2="55.2" y2="503.0" stroke="#3a3040" stroke-width="1"/>
<line x1="53.7" y1="514.2" x2="55.2" y2="514.2" stroke="#3a3040" stroke-width="1"/>
<line x1="53.7" y1="549" x2="53.7" y2="554" stroke="#3a3040" stroke-width="1.8"/>
<line x1="53.7" y1="549.5" x2="55.2" y2="549.5" stroke="#3a3040" stroke-width="1"/>
<line x1="53.7" y1="553.5" x2="55.2" y2="553.5" stroke="#3a3040" stroke-width="1"/>
<line x1="53.7" y1="585.3" x2="53.7" y2="597.5" stroke="#3a3040" stroke-width="1.8"/>
<line x1="53.7" y1="585.8" x2="55.2" y2="585.8" stroke="#3a3040" stroke-width="1"/>
<line x1="53.7" y1="597.0" x2="55.2" y2="597.0" stroke="#3a3040" stroke-width="1"/>
</svg>
</body></html>
